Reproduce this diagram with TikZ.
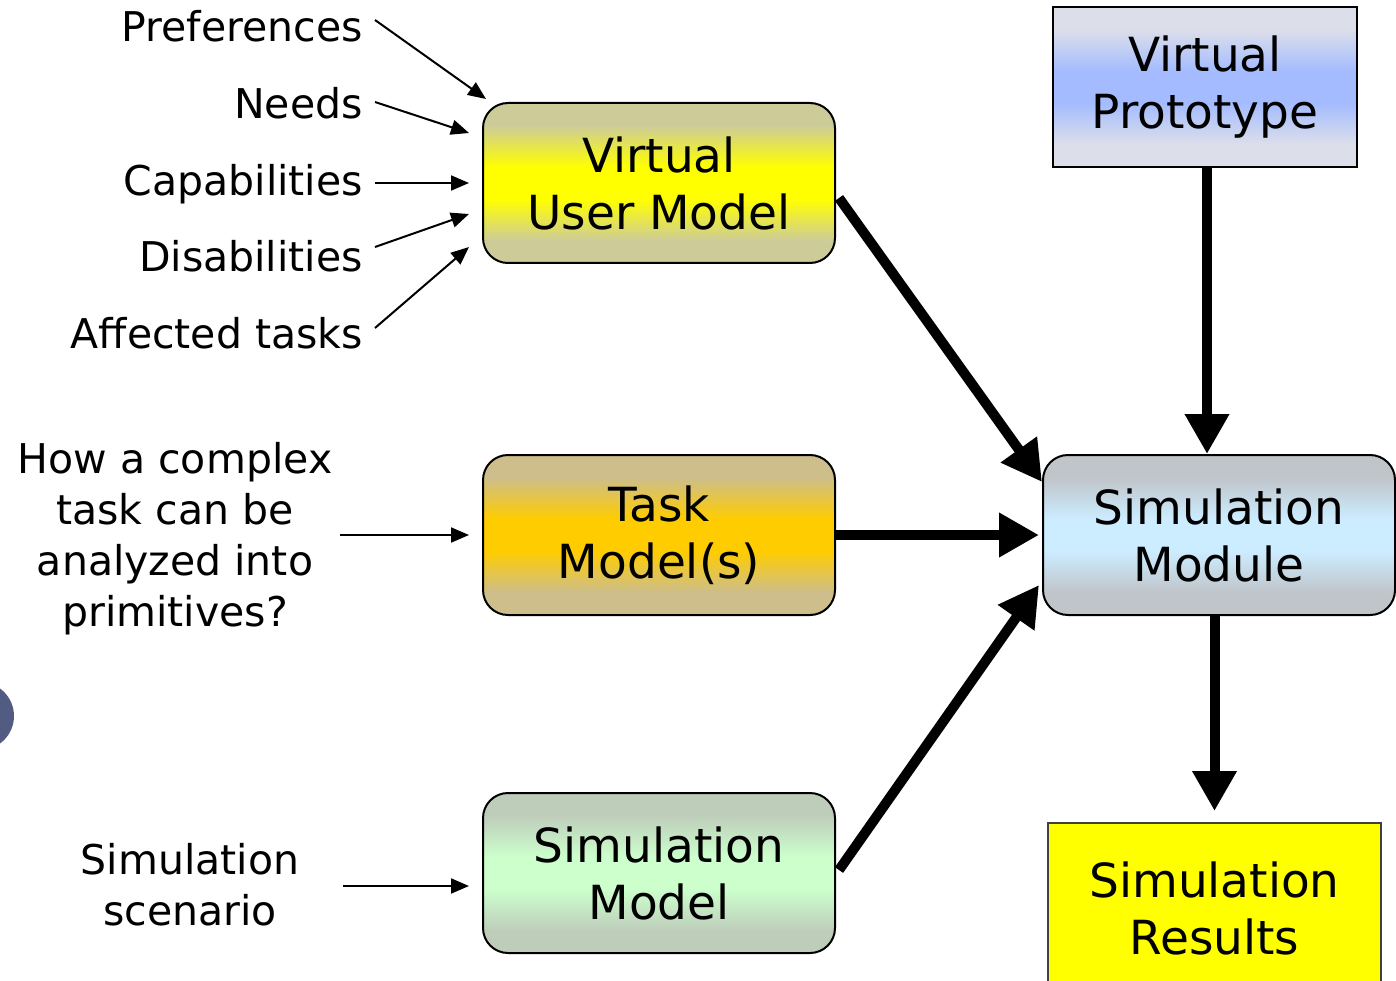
\documentclass[tikz,border=0pt]{standalone}
\usepackage{fontspec}
\setmainfont{DejaVu Sans}
\usetikzlibrary{arrows.meta,calc}

\definecolor{vumedge}{RGB}{205,204,153}
\definecolor{vummid}{RGB}{255,255,0}
\definecolor{taskedge}{RGB}{205,190,140}
\definecolor{taskmid}{RGB}{255,204,0}
\definecolor{simedge}{RGB}{190,205,186}
\definecolor{simmid}{RGB}{204,255,204}
\definecolor{modedge}{RGB}{192,197,202}
\definecolor{modmid}{RGB}{204,236,255}
\definecolor{vpedge}{RGB}{220,222,234}
\definecolor{vpmid}{RGB}{164,188,255}
\definecolor{resfill}{RGB}{255,255,0}
\definecolor{dotblue}{RGB}{82,92,130}

% band shading: edge colour near top and bottom, a band of the middle colour
\colorlet{bandedge}{white}
\colorlet{bandmid}{white}
\pgfdeclareverticalshading[bandedge,bandmid]{band}{100bp}{%
  color(0bp)=(bandedge); color(32bp)=(bandedge);
  color(45bp)=(bandmid); color(55bp)=(bandmid);
  color(68bp)=(bandedge); color(100bp)=(bandedge)}

\begin{document}
\begin{tikzpicture}[x=1pt,y=-1pt,
  box/.style={draw=black, line width=2pt, rounded corners=25pt,
    minimum width=352pt, minimum height=160pt, align=center,
    inner sep=0pt, font=\fontsize{47}{57}\selectfont},
  plainbox/.style={box, rounded corners=0pt},
  banded/.style 2 args={/utils/exec={\colorlet{bandedge}{#1}\colorlet{bandmid}{#2}},
    shading=band},
  lbl/.style={inner sep=0pt, font=\fontsize{41}{51}\selectfont},
  feed/.style={line width=2pt, -{Triangle[length=18pt,width=15pt]}},
  flow/.style={line width=10pt, -{Triangle[length=40pt,width=42pt]}}
]
\useasboundingbox (0,0) rectangle (1396,981);
\clip (0,0) rectangle (1396,981);

% page marker at the left edge
\fill[dotblue] (-20,716) circle (34);

% model boxes
\node[box, banded={vumedge}{vummid}] (vum) at (659,183) {Virtual\\User Model};
\node[box, banded={taskedge}{taskmid}] (task) at (659,535) {Task\\Model(s)};
\node[box, banded={simedge}{simmid}] (simm) at (659,873) {Simulation\\Model};
\node[box, banded={modedge}{modmid}] (mod) at (1219,535) {Simulation\\Module};
\node[plainbox, minimum width=304pt, banded={vpedge}{vpmid}]
  (vp) at (1205,87) {Virtual\\Prototype};
\node[plainbox, draw=black!75, minimum width=333pt, minimum height=170pt, fill=resfill]
  (res) at (1214.5,908) {Simulation\\Results};

% inputs of the user model
\node[lbl, anchor=base east] (pref) at (363,42) {Preferences};
\node[lbl, anchor=base east] (need) at (363,119) {Needs};
\node[lbl, anchor=base east] (capa) at (363,196) {Capabilities};
\node[lbl, anchor=base east] (disa) at (363,272) {Disabilities};
\node[lbl, anchor=base east] (aff) at (363,348) {Affected tasks};
\node[lbl, align=center] (how) at (175,539) {How a complex\\task can be\\analyzed into\\primitives?};
\node[lbl, align=center] (scen) at (190,885) {Simulation\\scenario};

\draw[feed] ($(pref.base east)+(12,-22)$) -- ($(vum.north west)+(4,-3)$);
\draw[feed] ($(need.base east)+(12,-17)$) -- ($(vum.west)+(-13,-50)$);
\draw[feed] ($(capa.base east)+(12,-13)$) -- ($(vum.west)+(-13,0)$);
\draw[feed] ($(disa.base east)+(12,-25)$) -- ($(vum.west)+(-13,31)$);
\draw[feed] ($(aff.base east)+(12,-20)$) -- ($(vum.west)+(-13,64)$);
\draw[feed] ($(how.east)+(8,-4)$) -- ($(task.west)+(-13,0)$);
\draw[feed] ($(scen.east)+(44,1)$) -- ($(simm.west)+(-13,13)$);

% main flow
\draw[flow] ($(vum.east)+(3,15)$) -- ($(mod.north west)+(0,28)$);
\draw[flow] (task.east) -- ($(mod.west)+(-3,0)$);
\draw[flow] ($(simm.east)+(3,-3)$) -- ($(mod.west)+(-3,50)$);
\draw[flow] ($(vp.south)+(2,0)$) -- ($(vp.south |- mod.north)+(2,0)$);
\draw[flow] (res.north |- mod.south) -- ($(res.north)+(0,-11)$);
\end{tikzpicture}
\end{document}
